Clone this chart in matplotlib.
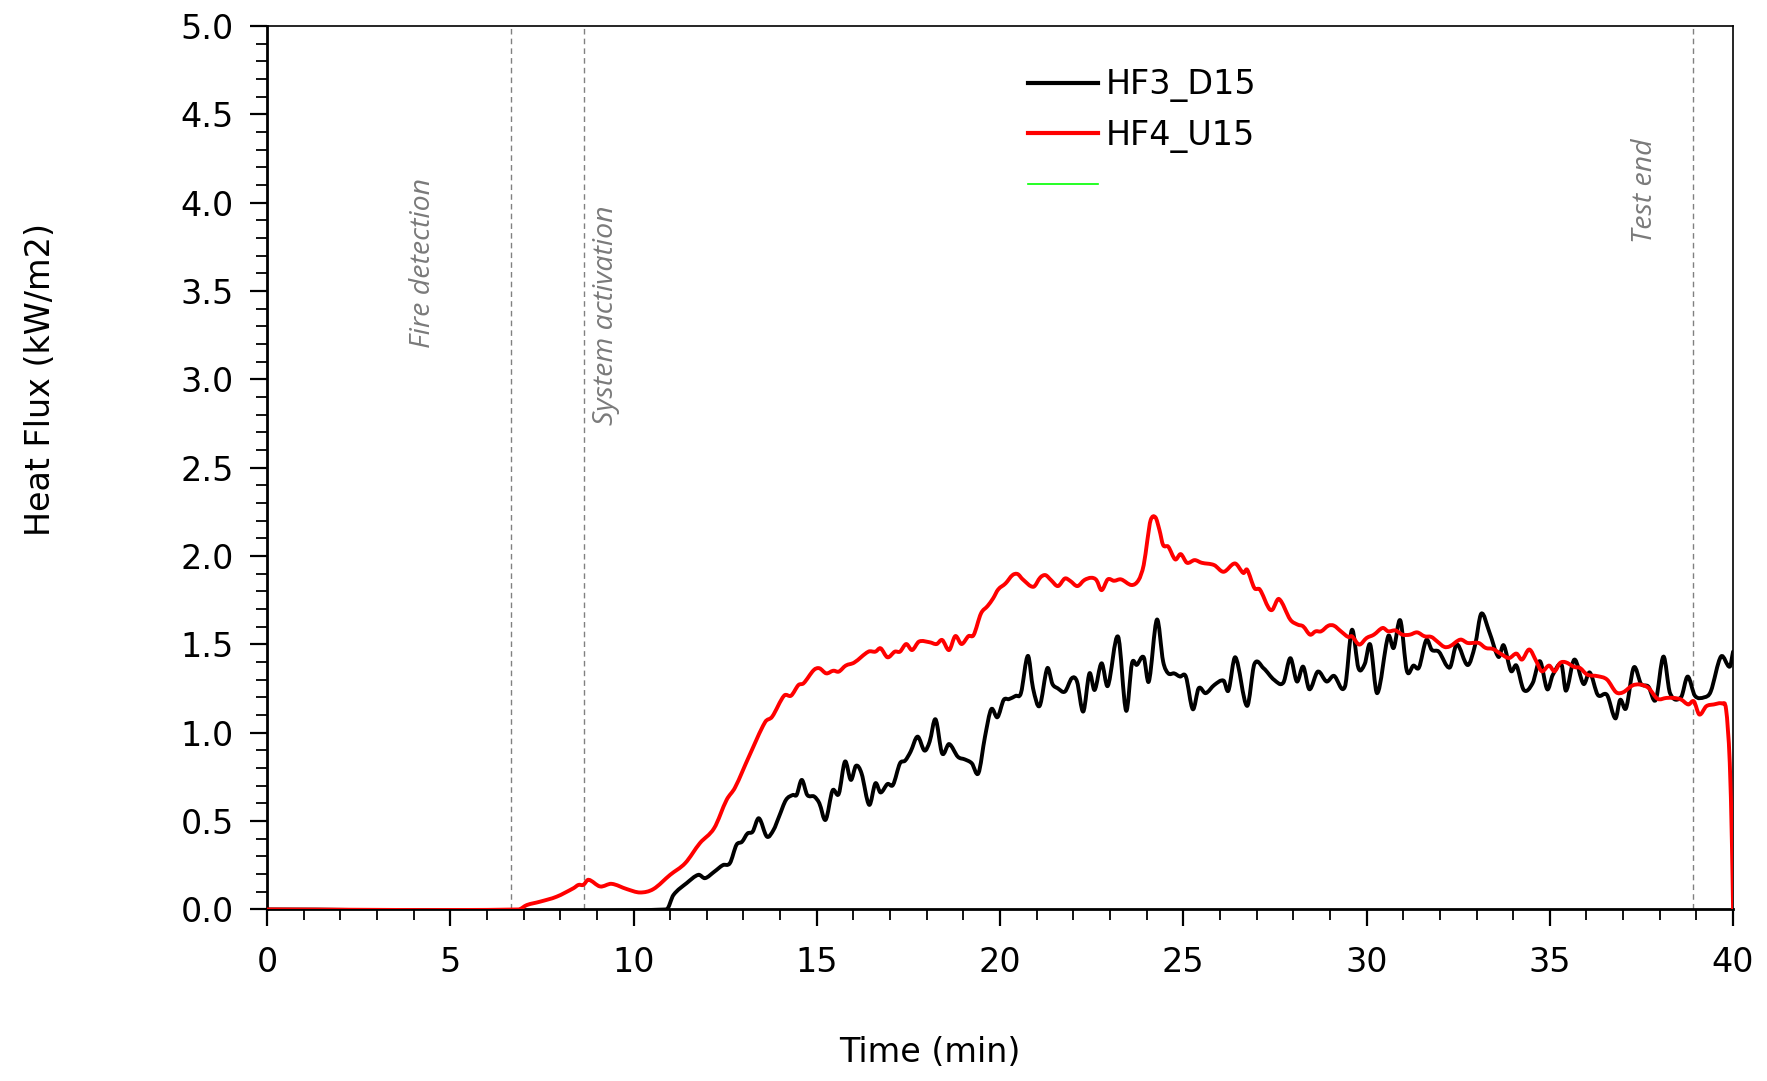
import matplotlib
matplotlib.use("Agg")
import numpy as np
import matplotlib.pyplot as plt
from matplotlib.lines import Line2D
from matplotlib.path import Path
from matplotlib.patches import PathPatch
from matplotlib.ticker import MultipleLocator, FormatStrFormatter

# HF3_D15 (black)
t_hf3 = [0, 10.9, 11.09, 11.45, 11.77, 11.95, 12.2, 12.44, 12.63, 12.81, 12.96, 13.11, 13.25, 13.42,
         13.64, 13.82, 13.97, 14.16, 14.35, 14.45, 14.59, 14.74, 14.93, 15.07, 15.24, 15.43, 15.6,
         15.77, 15.93, 16.07, 16.22, 16.43, 16.6, 16.74, 16.93, 17.08, 17.27, 17.41, 17.56, 17.75,
         17.94, 18.08, 18.24, 18.42, 18.61, 18.85, 19.04, 19.23, 19.41, 19.59, 19.76, 19.93, 20.1,
         20.24, 20.43, 20.57, 20.76, 20.9, 21.08, 21.29, 21.43, 21.57, 21.77, 21.96, 22.1, 22.27,
         22.44, 22.58, 22.77, 22.94, 23.22, 23.44, 23.6, 23.73, 23.92, 24.06, 24.28, 24.45, 24.59,
         24.75, 24.91, 25.07, 25.26, 25.42, 25.61, 25.85, 26.1, 26.23, 26.42, 26.74, 26.94, 27.19,
         27.48, 27.73, 27.92, 28.1, 28.27, 28.44, 28.67, 28.91, 29.11, 29.41, 29.6, 29.78, 29.95,
         30.1, 30.29, 30.59, 30.74, 30.92, 31.1, 31.28, 31.43, 31.63, 31.78, 31.97, 32.27, 32.46,
         32.76, 32.96, 33.13, 33.35, 33.6, 33.74, 33.94, 34.09, 34.29, 34.53, 34.73, 34.93, 35.08,
         35.32, 35.44, 35.67, 35.92, 36.09, 36.31, 36.56, 36.79, 36.92, 37.08, 37.29, 37.49, 37.69,
         37.89, 38.1, 38.28, 38.58, 38.76, 38.96, 39.22, 39.39, 39.67, 39.91, 40.0]
v_hf3 = [0, 0, 0.082, 0.149, 0.196, 0.177, 0.213, 0.251, 0.262, 0.366, 0.383, 0.43, 0.44, 0.516,
         0.412, 0.45, 0.525, 0.62, 0.648, 0.648, 0.733, 0.648, 0.639, 0.601, 0.507, 0.673, 0.654,
         0.837, 0.733, 0.813, 0.771, 0.592, 0.714, 0.662, 0.71, 0.705, 0.827, 0.842, 0.893, 0.978,
         0.899, 0.95, 1.076, 0.883, 0.936, 0.864, 0.849, 0.827, 0.771, 0.978, 1.133, 1.088, 1.186,
         1.19, 1.209, 1.224, 1.435, 1.252, 1.152, 1.365, 1.276, 1.252, 1.233, 1.309, 1.29, 1.12,
         1.336, 1.242, 1.393, 1.265, 1.544, 1.125, 1.393, 1.384, 1.427, 1.29, 1.64, 1.403, 1.336,
         1.336, 1.318, 1.318, 1.133, 1.252, 1.224, 1.271, 1.295, 1.238, 1.427, 1.152, 1.389, 1.365,
         1.299, 1.284, 1.422, 1.29, 1.374, 1.246, 1.346, 1.29, 1.322, 1.261, 1.582, 1.365, 1.389,
         1.499, 1.224, 1.546, 1.48, 1.636, 1.35, 1.38, 1.369, 1.525, 1.469, 1.459, 1.369, 1.5,
         1.383, 1.495, 1.674, 1.57, 1.429, 1.495, 1.35, 1.38, 1.242, 1.28, 1.405, 1.246, 1.327,
         1.384, 1.238, 1.414, 1.276, 1.341, 1.214, 1.214, 1.081, 1.186, 1.139, 1.369, 1.276, 1.261,
         1.186, 1.431, 1.224, 1.201, 1.318, 1.209, 1.201, 1.233, 1.431, 1.374, 1.459]

# HF4_U15 (red)
t_hf4 = [0, 6.86, 7.09, 7.45, 7.9, 8.36, 8.5, 8.63, 8.77, 9.09, 9.4, 9.82, 10.18, 10.54, 11.0,
         11.41, 11.81, 12.2, 12.54, 12.77, 13.16, 13.59, 13.78, 14.11, 14.3, 14.5, 14.64, 14.92,
         15.07, 15.26, 15.45, 15.6, 15.79, 16.02, 16.41, 16.6, 16.74, 16.93, 17.13, 17.27, 17.44,
         17.6, 17.79, 18.08, 18.27, 18.42, 18.61, 18.78, 18.95, 19.14, 19.28, 19.48, 19.66, 19.81,
         19.95, 20.15, 20.34, 20.48, 20.62, 20.91, 21.1, 21.24, 21.39, 21.58, 21.77, 21.91, 22.11,
         22.3, 22.49, 22.63, 22.77, 22.94, 23.11, 23.3, 23.59, 23.78, 23.92, 24.02, 24.11, 24.24,
         24.35, 24.45, 24.59, 24.78, 24.93, 25.1, 25.31, 25.5, 25.84, 26.1, 26.41, 26.64, 26.74,
         26.94, 27.09, 27.33, 27.43, 27.61, 27.92, 28.12, 28.27, 28.46, 28.61, 28.76, 28.96, 29.11,
         29.3, 29.5, 29.6, 29.8, 30.0, 30.2, 30.44, 30.59, 30.79, 30.98, 31.18, 31.38, 31.58, 31.77,
         31.92, 32.12, 32.27, 32.56, 32.76, 33.06, 33.25, 33.45, 33.65, 33.89, 34.09, 34.24, 34.44,
         34.63, 34.78, 34.98, 35.13, 35.28, 35.43, 35.67, 35.82, 36.02, 36.31, 36.56, 36.81, 37.0,
         37.25, 37.45, 37.69, 37.94, 38.18, 38.38, 38.58, 38.78, 38.93, 39.08, 39.27, 39.47, 39.71,
         39.81, 39.91, 39.97, 40.0]
v_hf4 = [0, 0, 0.025, 0.044, 0.072, 0.12, 0.139, 0.139, 0.168, 0.13, 0.145, 0.115, 0.096, 0.115,
         0.196, 0.262, 0.375, 0.46, 0.62, 0.69, 0.87, 1.06, 1.09, 1.21, 1.21, 1.27, 1.28, 1.355,
         1.365, 1.336, 1.351, 1.346, 1.38, 1.397, 1.459, 1.459, 1.478, 1.427, 1.459, 1.459, 1.502,
         1.468, 1.516, 1.512, 1.502, 1.525, 1.468, 1.547, 1.502, 1.547, 1.553, 1.675, 1.717, 1.76,
         1.811, 1.845, 1.892, 1.898, 1.868, 1.826, 1.879, 1.892, 1.864, 1.83, 1.873, 1.86, 1.83,
         1.864, 1.877, 1.864, 1.807, 1.868, 1.86, 1.868, 1.836, 1.864, 1.949, 2.09, 2.204, 2.219,
         2.147, 2.062, 2.053, 1.981, 2.011, 1.962, 1.977, 1.962, 1.949, 1.911, 1.958, 1.904, 1.923,
         1.819, 1.81, 1.706, 1.696, 1.757, 1.64, 1.612, 1.602, 1.555, 1.574, 1.574, 1.606, 1.606,
         1.574, 1.542, 1.546, 1.499, 1.536, 1.555, 1.593, 1.574, 1.579, 1.555, 1.555, 1.568, 1.546,
         1.542, 1.518, 1.486, 1.489, 1.527, 1.508, 1.508, 1.48, 1.474, 1.448, 1.423, 1.448, 1.414,
         1.471, 1.405, 1.348, 1.38, 1.348, 1.395, 1.399, 1.372, 1.367, 1.329, 1.32, 1.301, 1.229,
         1.229, 1.267, 1.273, 1.254, 1.192, 1.197, 1.197, 1.188, 1.16, 1.178, 1.103, 1.15, 1.16,
         1.165, 1.131, 0.829, 0.357, 0.0]

# vertical event markers
eventos = ["Fire detection", "System activation", "Test end"]
t_eventos = [6.65, 8.65, 38.9]
# where the rotated labels sit (time, heat flux)
pos_etiquetas = [(4.25, 3.66), (9.25, 3.36), (37.6, 4.07)]


# smoothed line like the spreadsheet's "smooth line": cubic hermite in x, drawn as bezier
def linea_suave(ax, x, y, **kw):
    x = np.asarray(x, float)
    y = np.asarray(y, float)
    n = len(x)
    m = np.zeros(n)
    m[0] = (y[1] - y[0]) / (x[1] - x[0])
    m[-1] = (y[-1] - y[-2]) / (x[-1] - x[-2])
    m[1:-1] = (y[2:] - y[:-2]) / (x[2:] - x[:-2])
    verts = [(x[0], y[0])]
    codes = [Path.MOVETO]
    for i in range(n - 1):
        dx = (x[i + 1] - x[i]) / 3.0
        verts += [(x[i] + dx, y[i] + dx * m[i]),
                  (x[i + 1] - dx, y[i + 1] - dx * m[i + 1]),
                  (x[i + 1], y[i + 1])]
        codes += [Path.CURVE4] * 3
    patch = PathPatch(Path(verts, codes), fill=False, **kw)
    ax.add_patch(patch)
    return patch


fig = plt.figure(figsize=(17.67, 10.81), dpi=100)
ax = fig.add_axes([0.1511, 0.1587, 0.8297, 0.8173])

for t_ev in t_eventos:
    ax.axvline(t_ev, color='#808080', linestyle=(0, (4, 3)), linewidth=1.0, zorder=1)

for nombre, (tx, ty) in zip(eventos, pos_etiquetas):
    ax.text(tx, ty, nombre, rotation=90, ha='center', va='center', color='#7a7a7a',
            fontsize=20.5, style='italic', family='Open Sans')

linea_suave(ax, t_hf3, v_hf3, edgecolor='black', linewidth=2.8, zorder=3, capstyle='round', joinstyle='round')
linea_suave(ax, t_hf4, v_hf4, edgecolor='#ff0000', linewidth=2.8, zorder=4, capstyle='round', joinstyle='round')

ax.set_xlim(0, 40)
ax.set_ylim(0, 5)
ax.xaxis.set_major_locator(MultipleLocator(5))
ax.xaxis.set_minor_locator(MultipleLocator(1))
ax.yaxis.set_major_locator(MultipleLocator(0.5))
ax.yaxis.set_minor_locator(MultipleLocator(0.1))
ax.yaxis.set_major_formatter(FormatStrFormatter('%.1f'))

ax.tick_params(which='major', direction='out', length=12, width=1.6, labelsize=24, pad=14)
ax.tick_params(which='minor', direction='out', length=8, width=1.3)
ax.tick_params(axis='y', which='both', pad=12)
for lado in ['top', 'right']:
    ax.spines[lado].set_linewidth(1.2)
for lado in ['bottom', 'left']:
    ax.spines[lado].set_linewidth(2.0)

ax.set_xlabel("Time (min)", fontsize=24)
ax.set_ylabel("Heat Flux (kW/m2)", fontsize=24)
ax.xaxis.set_label_coords(0.452, -0.143)
ax.yaxis.set_label_coords(-0.143, 0.60)

handles = [Line2D([], [], color='black', linewidth=3),
           Line2D([], [], color='#ff0000', linewidth=3),
           Line2D([], [], color='#00ff00', linewidth=1.2)]
ax.legend(handles, ["HF3_D15", "HF4_U15", ""], loc='upper left', bbox_to_anchor=(0.519, 0.952),
          frameon=False, fontsize=24, handlelength=2.1, handletextpad=0.25, labelspacing=0.5,
          borderpad=0, borderaxespad=0)

fig.savefig("out.png", dpi=100)
